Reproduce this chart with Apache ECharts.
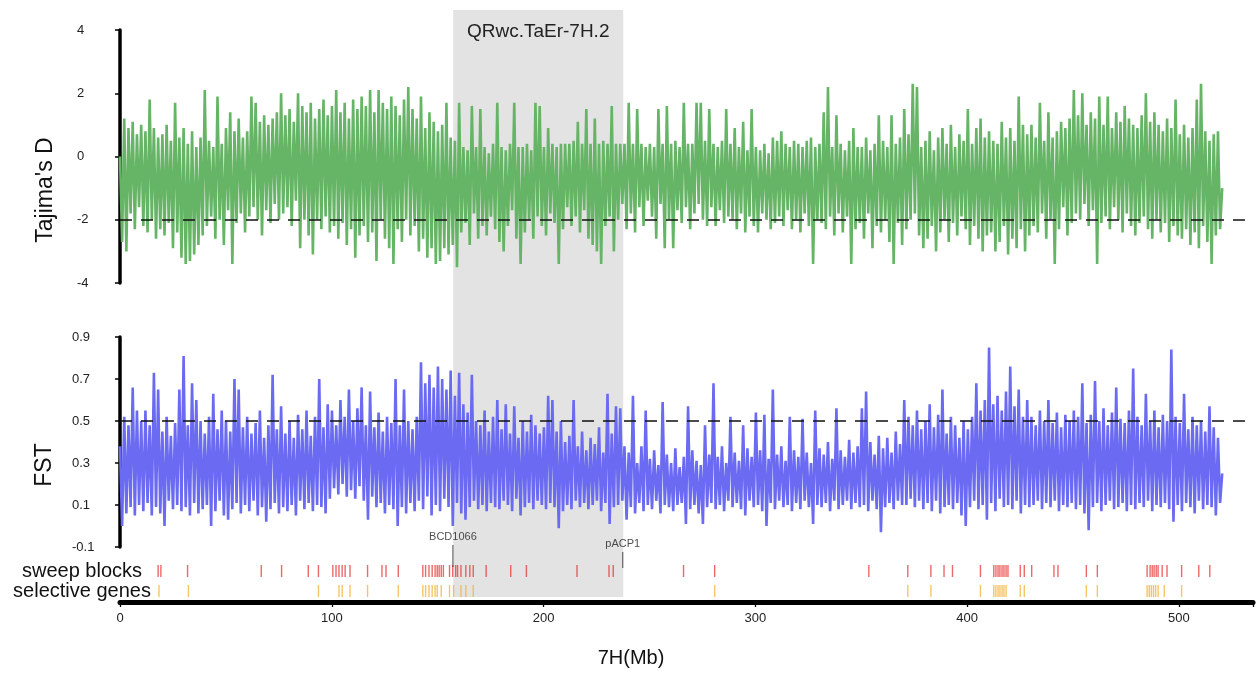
<!DOCTYPE html>
<html>
<head>
<meta charset="utf-8">
<script src="https://cdn.jsdelivr.net/npm/echarts@6/dist/echarts.min.js"></script>
<style>
  html, body { margin: 0; padding: 0; background: #fff; }
  #chart { width: 1256px; height: 673px; }
</style>
</head>
<body>
<div id="chart"></div>
<script>
// Windows along chromosome 7H: first window and step, in Mb
const windowStartMb = 0;
const windowStepMb = 1;

// Tajima's D per window
const tajimaD = [
  0.0, -2.7, 1.2, -3.0, 0.9, -1.8, 1.1, -2.3, 0.7, -1.6,
  1.0, -2.2, 0.8, -2.4, 1.8, -2.0, 0.9, -2.6, 0.6, -2.3,
  0.7, -2.5, 1.0, -2.1, 0.5, -2.9, 1.7, -2.4, 0.6, -3.2,
  0.9, -3.4, 0.4, -3.3, 0.8, -3.1, 0.3, -2.8, 0.6, -2.5,
  2.1, -2.2, 0.5, -1.9, 0.3, -2.6, 1.9, -2.0, 0.4, -2.8,
  0.9, -1.7, 1.4, -3.4, 0.8, -2.1, 1.2, -1.8, 0.6, -2.4,
  0.8, -1.9, 1.9, -1.6, 1.7, -2.0, 1.1, -2.5, 1.3, -1.7,
  1.0, -2.1, 1.2, -1.5, 1.4, -2.0, 2.0, -1.8, 1.3, -1.6,
  1.5, -2.2, 1.1, -1.4, 2.0, -2.9, 1.6, -2.0, 1.4, -2.5,
  1.7, -3.1, 1.2, -2.0, 1.5, -2.3, 1.8, -1.9, 1.3, -2.4,
  1.6, -2.2, 2.1, -2.6, 1.4, -2.1, 1.7, -2.8, 1.2, -2.3,
  1.8, -3.2, 1.5, -2.5, 1.9, -2.2, 1.6, -2.7, 2.1, -2.4,
  1.4, -3.3, 2.1, -2.0, 1.7, -2.6, 1.5, -2.9, 1.9, -3.4,
  1.6, -2.3, 1.3, -2.7, 1.8, -2.0, 2.2, -2.5, 1.5, -2.2,
  1.2, -3.0, 1.9, -2.6, 0.9, -3.2, 1.4, -2.9, 1.1, -3.4,
  0.8, -3.3, 1.0, -2.9, 1.7, -3.1, 0.6, -2.8, 0.5, -3.5,
  1.7, -2.4, 0.3, -2.1, 0.2, -2.8, 1.6, -1.8, 0.3, -2.6,
  1.5, -2.2, 0.3, -2.5, 0.1, -1.9, 0.4, -2.3, 1.7, -2.7,
  0.3, -3.0, 0.2, -2.2, 0.4, -1.7, 1.7, -2.6, 0.3, -3.4,
  0.3, -2.4, 0.4, -2.0, 0.2, -2.6, 1.7, -1.9, 1.6, -2.2,
  0.3, -2.5, 0.9, -1.8, 0.4, -2.1, 0.3, -3.4, 0.4, -2.3,
  0.4, -1.6, 0.4, -2.2, 0.5, -1.9, 1.1, -2.4, 0.4, -1.7,
  1.5, -2.6, 0.4, -2.8, 1.2, -3.0, 0.4, -3.4, 0.5, -2.2,
  0.4, -1.9, 1.6, -3.0, 0.4, -2.0, 0.4, -1.5, 0.4, -2.3,
  1.7, -1.8, 0.4, -2.4, 1.5, -1.6, 0.4, -2.2, 0.3, -1.4,
  0.4, -1.9, 0.3, -2.6, 1.5, -1.5, 0.4, -2.9, 1.6, -2.0,
  0.4, -2.9, 0.5, -1.7, 0.3, -2.1, 1.7, -1.6, 0.4, -2.3,
  0.4, -1.8, 1.7, -1.5, 1.7, -2.0, 0.5, -2.2, 1.5, -1.6,
  0.4, -2.2, 0.3, -1.7, 0.5, -2.1, 1.5, -1.9, 0.4, -2.0,
  0.9, -2.3, 0.3, -1.8, 1.1, -2.4, 0.2, -1.9, 1.5, -2.2,
  0.3, -2.4, 0.2, -1.8, 0.4, -2.0, 0.1, -2.3, 0.6, -2.1,
  0.5, -1.9, 0.8, -2.2, 0.4, -1.7, 0.3, -2.3, 0.5, -2.0,
  0.4, -2.4, 0.3, -1.8, 0.5, -2.2, 0.6, -3.4, 0.3, -2.0,
  0.4, -2.1, 1.4, -2.3, 2.2, -1.9, 0.3, -2.5, 1.3, -1.8,
  0.4, -2.4, 0.2, -1.9, 0.5, -3.4, 0.9, -2.3, 0.3, -2.1,
  0.3, -2.6, 0.6, -1.8, 0.2, -2.9, 0.4, -2.2, 1.3, -2.4,
  0.5, -2.0, 0.3, -2.7, 1.3, -3.4, 0.4, -2.1, 0.6, -2.8,
  1.5, -2.3, 0.7, -2.0, 2.3, -1.8, 2.2, -2.5, 0.3, -2.9,
  0.5, -2.6, 0.8, -2.2, 0.2, -3.0, 0.6, -2.4, 0.9, -2.0,
  0.4, -2.7, 1.0, -2.1, 0.3, -2.5, 0.7, -1.9, 0.5, -2.3,
  1.5, -2.8, 0.4, -2.2, 0.9, -2.6, 1.2, -3.0, 0.6, -2.5,
  0.8, -2.4, 0.5, -3.0, 0.4, -2.7, 1.1, -2.2, 0.6, -3.1,
  0.9, -2.6, 0.5, -2.9, 1.9, -2.3, 1.0, -3.0, 0.7, -2.5,
  1.0, -2.2, 0.6, -2.4, 1.7, -1.8, 0.5, -2.6, 1.4, -2.0,
  0.6, -3.4, 0.8, -2.3, 1.1, -1.6, 0.9, -2.5, 1.2, -2.1,
  2.1, -1.8, 1.3, -2.0, 2.0, -1.5, 1.0, -2.2, 1.4, -1.7,
  1.2, -3.4, 1.9, -2.1, 1.0, -1.9, 1.9, -2.3, 0.9, -1.6,
  1.4, -2.0, 1.1, -2.4, 1.6, -1.8, 1.2, -2.2, 1.0, -2.5,
  0.9, -2.1, 1.3, -1.9, 2.0, -2.3, 1.1, -2.6, 1.4, -2.0,
  1.0, -2.4, 0.8, -2.1, 1.2, -2.7, 0.9, -2.2, 1.8, -2.5,
  0.7, -2.6, 1.0, -2.3, 0.6, -2.8, 0.9, -2.4, 1.8, -2.9,
  2.3, -2.2, 0.8, -2.7, 0.5, -3.4, 0.7, -2.5, 0.8, -2.3,
  -1.0
];

// FST per window
const fst = [
  0.38, 0.00, 0.52, 0.06, 0.48, 0.09, 0.66, 0.05, 0.55, 0.10,
  0.50, 0.07, 0.55, 0.11, 0.48, 0.05, 0.73, 0.09, 0.65, 0.06,
  0.45, 0.00, 0.52, 0.12, 0.43, 0.08, 0.49, 0.10, 0.65, 0.07,
  0.81, 0.09, 0.48, 0.05, 0.68, 0.11, 0.60, 0.06, 0.50, 0.08,
  0.44, 0.10, 0.52, 0.00, 0.63, 0.07, 0.46, 0.12, 0.55, 0.05,
  0.50, 0.03, 0.45, 0.08, 0.70, 0.11, 0.65, 0.06, 0.47, 0.10,
  0.52, 0.07, 0.44, 0.12, 0.49, 0.05, 0.55, 0.09, 0.42, 0.02,
  0.48, 0.08, 0.72, 0.11, 0.46, 0.06, 0.57, 0.09, 0.44, 0.07,
  0.50, 0.10, 0.42, 0.05, 0.53, 0.12, 0.46, 0.08, 0.55, 0.11,
  0.43, 0.07, 0.52, 0.10, 0.70, 0.09, 0.47, 0.06, 0.58, 0.13,
  0.55, 0.18, 0.48, 0.15, 0.60, 0.20, 0.52, 0.14, 0.65, 0.17,
  0.50, 0.13, 0.56, 0.19, 0.66, 0.12, 0.48, 0.03, 0.64, 0.14,
  0.47, 0.09, 0.54, 0.11, 0.45, 0.06, 0.52, 0.10, 0.49, 0.08,
  0.70, 0.00, 0.48, 0.09, 0.65, 0.06, 0.50, 0.11, 0.46, 0.07,
  0.52, 0.12, 0.78, 0.08, 0.68, 0.14, 0.72, 0.05, 0.66, 0.10,
  0.76, 0.07, 0.70, 0.13, 0.65, 0.09, 0.74, 0.00, 0.62, 0.11,
  0.73, 0.06, 0.58, 0.03, 0.54, 0.09, 0.72, 0.12, 0.50, 0.08,
  0.48, 0.10, 0.55, 0.07, 0.45, 0.11, 0.52, 0.09, 0.60, 0.08,
  0.46, 0.12, 0.58, 0.10, 0.44, 0.07, 0.57, 0.13, 0.42, 0.05,
  0.50, 0.09, 0.45, 0.11, 0.53, 0.08, 0.48, 0.12, 0.44, 0.10,
  0.47, 0.08, 0.62, 0.11, 0.60, 0.09, 0.45, -0.01, 0.50, 0.07,
  0.40, 0.10, 0.43, 0.08, 0.60, 0.12, 0.38, 0.09, 0.45, 0.11,
  0.36, 0.08, 0.42, 0.10, 0.39, 0.12, 0.47, 0.07, 0.35, 0.11,
  0.63, 0.01, 0.44, 0.09, 0.57, 0.10, 0.56, 0.12, 0.38, 0.03,
  0.35, 0.09, 0.62, 0.06, 0.30, 0.11, 0.38, 0.07, 0.55, 0.10,
  0.32, 0.08, 0.36, 0.12, 0.29, 0.06, 0.59, 0.10, 0.34, 0.09,
  0.30, 0.07, 0.37, 0.10, 0.28, 0.11, 0.33, 0.01, 0.57, 0.08,
  0.36, 0.10, 0.31, 0.06, 0.29, 0.01, 0.48, 0.09, 0.34, 0.11,
  0.68, 0.08, 0.33, 0.10, 0.38, 0.07, 0.30, 0.12, 0.52, 0.09,
  0.35, 0.11, 0.31, 0.08, 0.48, 0.05, 0.37, 0.12, 0.33, 0.09,
  0.54, 0.10, 0.36, 0.07, 0.53, 0.00, 0.32, 0.11, 0.65, 0.08,
  0.34, 0.12, 0.38, 0.09, 0.31, 0.10, 0.52, 0.07, 0.36, 0.11,
  0.33, 0.08, 0.51, 0.12, 0.35, 0.09, 0.30, 0.01, 0.55, 0.10,
  0.37, 0.09, 0.34, 0.11, 0.40, 0.07, 0.32, 0.12, 0.56, 0.08,
  0.36, 0.10, 0.33, 0.12, 0.41, 0.08, 0.35, 0.11, 0.38, 0.09,
  0.56, 0.10, 0.64, 0.07, 0.40, 0.12, 0.34, 0.08, 0.43, -0.03,
  0.37, 0.09, 0.42, 0.11, 0.35, 0.08, 0.45, 0.12, 0.39, 0.10,
  0.60, 0.10, 0.52, 0.13, 0.48, 0.09, 0.55, 0.12, 0.46, 0.08,
  0.50, 0.11, 0.58, 0.07, 0.47, 0.12, 0.53, 0.06, 0.65, 0.09,
  0.44, 0.10, 0.52, 0.08, 0.48, 0.11, 0.42, 0.05, 0.50, 0.00,
  0.46, 0.09, 0.52, 0.12, 0.68, 0.08, 0.55, 0.10, 0.60, 0.03,
  0.85, 0.11, 0.58, 0.07, 0.62, 0.13, 0.55, 0.09, 0.64, 0.10,
  0.76, 0.08, 0.57, 0.12, 0.65, 0.06, 0.52, 0.10, 0.60, 0.09,
  0.52, 0.10, 0.48, 0.12, 0.55, 0.08, 0.50, 0.11, 0.60, 0.09,
  0.49, 0.12, 0.54, 0.07, 0.47, 0.10, 0.53, 0.09, 0.50, 0.11,
  0.55, 0.08, 0.52, 0.10, 0.68, 0.06, 0.49, -0.02, 0.53, 0.09,
  0.69, 0.11, 0.50, 0.07, 0.56, 0.10, 0.48, 0.12, 0.54, 0.08,
  0.66, 0.09, 0.51, 0.11, 0.49, 0.07, 0.55, 0.10, 0.75, 0.08,
  0.52, 0.11, 0.48, 0.09, 0.63, 0.12, 0.50, 0.07, 0.55, 0.10,
  0.47, 0.09, 0.53, 0.11, 0.50, 0.08, 0.84, 0.02, 0.52, 0.10,
  0.49, 0.07, 0.63, 0.11, 0.46, 0.09, 0.52, 0.06, 0.48, 0.12,
  0.50, 0.08, 0.45, 0.10, 0.57, 0.09, 0.47, 0.05, 0.42, 0.11,
  0.25
];

// Sweep block positions (Mb)
const sweepBlocks = [
  18.0, 19.3, 31.9, 66.7, 76.3, 88.9, 93.7, 100.5, 102.0, 103.4, 104.9, 106.3, 108.6,
  116.9, 123.7, 125.6, 131.4, 143.0, 144.3, 145.9, 147.4, 148.8, 149.8, 150.7, 151.7,
  152.7, 155.6, 157.1, 158.5, 159.4, 161.0, 163.3, 165.2, 166.8, 172.9, 184.5, 191.9,
  215.8, 230.9, 232.9, 266.1, 280.8, 353.6, 372.0, 382.9, 389.1, 393.1, 406.3, 412.6,
  413.6, 414.6, 415.5, 416.5, 417.4, 418.4, 419.3, 425.1, 427.0, 430.5, 441.0, 442.9,
  456.3, 461.5, 485.0, 486.4, 487.4, 488.3, 489.3, 490.2, 492.1, 494.4, 501.3, 509.4, 514.6
];

// Selective gene positions (Mb)
const selectiveGenes = [
  18.4, 32.3, 93.7, 103.4, 104.9, 108.6, 116.9, 131.4, 143.0, 144.3, 145.9, 147.4,
  148.8, 149.8, 151.7, 155.6, 157.5, 161.0, 163.3, 166.8, 280.8, 372.0, 382.9, 406.3,
  412.6, 413.6, 414.6, 415.5, 416.5, 417.4, 418.4, 425.1, 427.0, 456.3, 461.5, 485.0,
  486.0, 487.0, 488.0, 489.0, 490.2, 493.1, 501.3
];

// Flanking markers of the QTL interval (Mb)
const markerNames = ['BCD1066', 'pACP1'];
const markerPositions = [157.2, 237.4];
const qtlName = 'QRwc.TaEr-7H.2';

// Axis tick settings
const xTickStep = 100;
const tajimaTicks = { min: -4, max: 4, step: 2 };
const fstTicks = { min: -0.1, max: 0.9, step: 0.2 };
const tajimaThreshold = -2;
const fstThreshold = 0.5;

// ---------------------------------------------------------------
const FONT = "'Liberation Sans', Arial, Helvetica, sans-serif";
const GREEN = '#66b466';
const BLUE = '#6a6af2';
const X_MAX = 535;
const GRID_L = 120, GRID_R = 2;

const toPairs = arr => arr.map((v, i) => [windowStartMb + i * windowStepMb, v]);

function yAxisBase(gridIndex, ticks, margin, fmt) {
  return {
    type: 'value', gridIndex, min: ticks.min, max: ticks.max, interval: ticks.step,
    offset: 15,
    axisLine: { show: true, lineStyle: { color: '#000', width: 3.5 } },
    axisTick: { show: true, length: 5, lineStyle: { color: '#000', width: 1.5 } },
    axisLabel: { color: '#222', fontSize: 13, fontFamily: FONT, align: 'left', margin, formatter: fmt },
    splitLine: { show: false }
  };
}

function hiddenX(gridIndex) {
  return { type: 'value', gridIndex, min: 0, max: X_MAX, show: false, splitLine: { show: false } };
}

function thresholdLine(value) {
  return {
    silent: true, symbol: ['none', 'none'], label: { show: false },
    lineStyle: { color: '#111', type: [12, 9], width: 1.6 },
    data: [{ yAxis: value }]
  };
}

const ROW_SWEEP = 3.1, ROW_GENES = 1.1;

const chart = echarts.init(document.getElementById('chart'), null, { renderer: 'canvas' });

chart.setOption({
  animation: false,
  backgroundColor: '#fff',
  grid: [
    { left: GRID_L, right: GRID_R, top: 30, height: 253 },
    { left: GRID_L, right: GRID_R, top: 337, height: 210 },
    { left: GRID_L, right: GRID_R, top: 552, height: 50 },
    { left: GRID_L, right: GRID_R, top: 10, height: 587 }
  ],
  xAxis: [
    hiddenX(0),
    hiddenX(1),
    {
      type: 'value', gridIndex: 2, min: 0, max: X_MAX, interval: xTickStep,
      axisLine: { show: true, lineStyle: { color: '#000', width: 5 } },
      axisTick: { show: true, length: 5, lineStyle: { color: '#000', width: 1.3 } },
      axisLabel: {
        color: '#222', fontSize: 13, fontFamily: FONT, margin: 10,
        formatter: v => (v <= 500 ? String(v) : '')
      },
      splitLine: { show: false }
    },
    hiddenX(3)
  ],
  yAxis: [
    yAxisBase(0, tajimaTicks, 28, v => String(v)),
    yAxisBase(1, fstTicks, 33, v => v.toFixed(1)),
    { type: 'value', gridIndex: 2, min: 0, max: 5, show: false },
    { type: 'value', gridIndex: 3, min: 0, max: 1, show: false }
  ],
  series: [
    {
      name: "Tajima's D", type: 'line', xAxisIndex: 0, yAxisIndex: 0,
      data: toPairs(tajimaD), showSymbol: false, symbol: 'none', silent: true, z: 2,
      lineStyle: { color: GREEN, width: 2.6, join: 'bevel' },
      markLine: thresholdLine(tajimaThreshold)
    },
    {
      name: 'FST', type: 'line', xAxisIndex: 1, yAxisIndex: 1,
      data: toPairs(fst), showSymbol: false, symbol: 'none', silent: true, z: 2,
      lineStyle: { color: BLUE, width: 2.6, join: 'bevel' },
      markLine: thresholdLine(fstThreshold)
    },
    {
      name: 'sweep blocks', type: 'scatter', xAxisIndex: 2, yAxisIndex: 2, clip: false, silent: true,
      symbol: 'rect', symbolSize: [1.4, 12],
      itemStyle: { color: '#e52a2a', opacity: 0.7 },
      data: sweepBlocks.map(mb => [mb, ROW_SWEEP])
    },
    {
      name: 'selective genes', type: 'scatter', xAxisIndex: 2, yAxisIndex: 2, clip: false, silent: true,
      symbol: 'rect', symbolSize: [1.4, 12],
      itemStyle: { color: '#f2b233', opacity: 0.75 },
      data: selectiveGenes.map(mb => [mb, ROW_GENES])
    },
    {
      name: 'markers', type: 'scatter', xAxisIndex: 2, yAxisIndex: 2, clip: false, silent: true,
      symbol: 'rect',
      itemStyle: { color: '#222' },
      label: { show: true, position: 'top', distance: 3, color: '#222', fontSize: 11, fontFamily: FONT, formatter: p => p.name },
      data: markerNames.map((name, i) => ({
        name,
        value: [markerPositions[i], i === 0 ? 4.6 : 4.2],
        symbolSize: i === 0 ? [1, 22] : [1, 16]
      }))
    },
    {
      name: 'QTL', type: 'line', xAxisIndex: 3, yAxisIndex: 3, data: [], silent: true, z: 20,
      markArea: {
        silent: true,
        itemStyle: { color: 'rgba(198,198,198,0.49)' },
        label: { show: true, position: 'insideTop', distance: 12, color: '#222', fontSize: 19, fontFamily: FONT },
        data: [[{ name: qtlName, xAxis: markerPositions[0] }, { xAxis: markerPositions[1] }]]
      }
    }
  ],
  graphic: [
    {
      type: 'text', x: 46, y: 190, rotation: Math.PI / 2, silent: true,
      style: { text: "Tajima's D", fill: '#111', font: '23px ' + FONT, align: 'center', verticalAlign: 'middle' }
    },
    {
      type: 'text', x: 45, y: 465, rotation: Math.PI / 2, silent: true,
      style: { text: 'FST', fill: '#111', font: '23px ' + FONT, align: 'center', verticalAlign: 'middle' }
    },
    {
      type: 'text', x: 82, y: 571, silent: true,
      style: { text: 'sweep blocks', fill: '#111', font: '20px ' + FONT, align: 'center', verticalAlign: 'middle' }
    },
    {
      type: 'text', x: 82, y: 591, silent: true,
      style: { text: 'selective genes', fill: '#111', font: '20px ' + FONT, align: 'center', verticalAlign: 'middle' }
    },
    {
      type: 'text', x: 631, y: 658, silent: true,
      style: { text: '7H(Mb)', fill: '#111', font: '20px ' + FONT, align: 'center', verticalAlign: 'middle' }
    }
  ]
});
</script>
</body>
</html>
